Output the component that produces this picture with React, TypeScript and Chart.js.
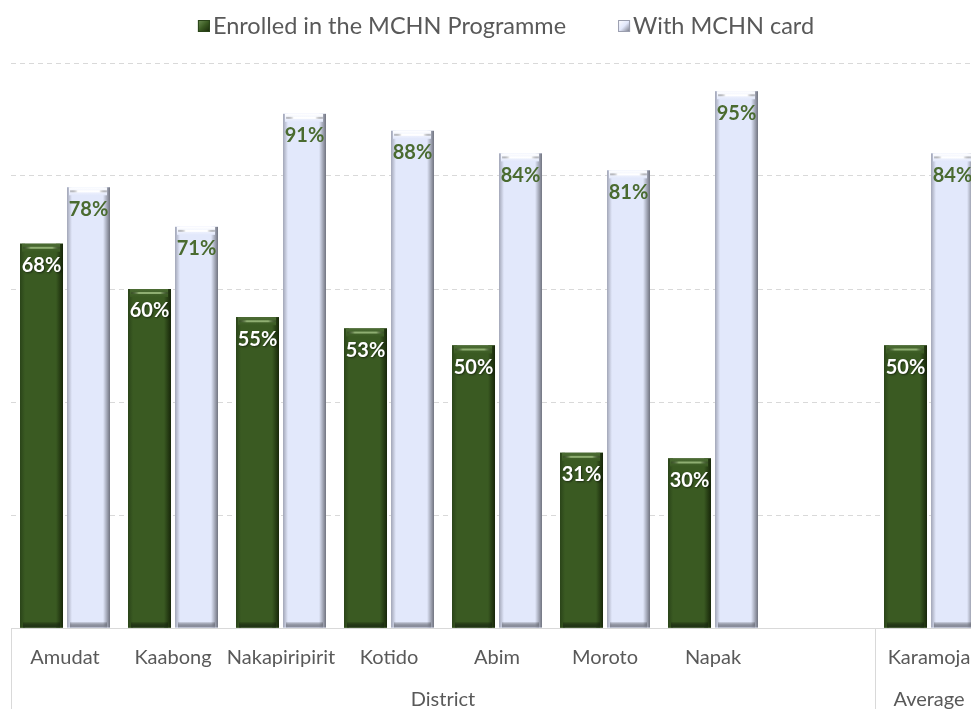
import React, { useEffect, useRef } from 'react';
import { Chart, registerables } from 'chart.js';

Chart.register(...registerables);

const categories = ['Amudat', 'Kaabong', 'Nakapiripirit', 'Kotido', 'Abim', 'Moroto', 'Napak', '', 'Karamoja'];
const enrolled = [68, 60, 55, 53, 50, 31, 30, null, 50];
const withCard = [78, 71, 91, 88, 84, 81, 95, null, 84];
const seriesNames = ['Enrolled in the MCHN Programme', 'With MCHN card'];
const groupNames = ['District', 'Average'];
const groupStarts = [0, 8];
const groupEnds = [7, 8];
const yMin = 0;
const yMax = 100;
const yStep = 20;

const FONT = 'Lato, "Open Sans", sans-serif';
const TEXT_GRAY = '#595959';
const LINE_GRAY = '#d9d9d9';

const schemes = [
  { base: '#3a5a22', left: '#2a4419', right: '#172609', bottom: '#223618', top: '#4c6c34', hi: '#8fae72', label: '#ffffff' },
  { base: '#e2e8fb', left: '#a2a6b7', right: '#70737f', bottom: '#8f93a2', top: '#ffffff', hi: '#ffffff', label: '#4a6b30' },
];

function drawBevelBar(ctx: CanvasRenderingContext2D, x0: number, x1: number, top: number, bot: number, s: any) {
  const w = x1 - x0;
  ctx.save();
  ctx.fillStyle = s.base;
  ctx.fillRect(x0, top, w, bot - top);
  let g = ctx.createLinearGradient(x0, 0, x0 + 5, 0);
  g.addColorStop(0, s.left);
  g.addColorStop(1, s.base);
  ctx.fillStyle = g;
  ctx.fillRect(x0, top, 5, bot - top);
  g = ctx.createLinearGradient(x1 - 7, 0, x1, 0);
  g.addColorStop(0, s.base);
  g.addColorStop(1, s.right);
  ctx.fillStyle = g;
  ctx.fillRect(x1 - 7, top, 7, bot - top);
  g = ctx.createLinearGradient(0, bot - 6, 0, bot);
  g.addColorStop(0, 'rgba(0,0,0,0)');
  g.addColorStop(1, s.bottom);
  ctx.fillStyle = g;
  ctx.fillRect(x0 + 3, bot - 6, w - 6, 6);
  g = ctx.createLinearGradient(0, top, 0, top + 8);
  g.addColorStop(0, s.top);
  g.addColorStop(1, s.base);
  ctx.fillStyle = g;
  ctx.fillRect(x0 + 2, top, w - 5, 8);
  g = ctx.createLinearGradient(x0, 0, x1, 0);
  g.addColorStop(0, 'rgba(0,0,0,0)');
  g.addColorStop(0.25, s.hi);
  g.addColorStop(0.75, s.hi);
  g.addColorStop(1, 'rgba(0,0,0,0)');
  ctx.fillStyle = g;
  ctx.fillRect(x0 + 3, top + 3, w - 6, 2);
  ctx.restore();
}

const decorPlugin = {
  id: 'decor',
  afterDatasetsDraw(chart: any) {
    const ctx: CanvasRenderingContext2D = chart.ctx;
    chart.data.datasets.forEach((ds: any, di: number) => {
      const meta = chart.getDatasetMeta(di);
      const s = schemes[di];
      meta.data.forEach((el: any, i: number) => {
        const v = ds.data[i];
        if (v == null) return;
        const p = el.getProps(['x', 'y', 'base', 'width'], true);
        drawBevelBar(ctx, p.x - p.width / 2, p.x + p.width / 2, p.y, p.base, s);
      });
    });
    chart.data.datasets.forEach((ds: any, di: number) => {
      const meta = chart.getDatasetMeta(di);
      const s = schemes[di];
      meta.data.forEach((el: any, i: number) => {
        const v = ds.data[i];
        if (v == null) return;
        const p = el.getProps(['x', 'y'], true);
        ctx.save();
        ctx.font = `bold 20px ${FONT}`;
        ctx.textAlign = 'center';
        ctx.textBaseline = 'middle';
        if (di === 0) {
          ctx.shadowColor = 'rgba(0,0,0,0.5)';
          ctx.shadowBlur = 2;
          ctx.shadowOffsetX = 1;
          ctx.shadowOffsetY = 1;
        }
        ctx.fillStyle = s.label;
        ctx.fillText(`${v}%`, p.x, p.y + 22);
        ctx.restore();
      });
    });
  },
  afterDraw(chart: any) {
    const ctx: CanvasRenderingContext2D = chart.ctx;
    const xs = chart.scales.x;
    const area = chart.chartArea;
    const half = (xs.getPixelForValue(1) - xs.getPixelForValue(0)) / 2;
    ctx.save();
    ctx.strokeStyle = LINE_GRAY;
    ctx.lineWidth = 1;
    groupNames.forEach((name, gi) => {
      const l = xs.getPixelForValue(groupStarts[gi]) - half;
      const r = xs.getPixelForValue(groupEnds[gi]) + half;
      [l, r].forEach((px) => {
        ctx.beginPath();
        ctx.moveTo(Math.round(px) + 0.5, area.bottom);
        ctx.lineTo(Math.round(px) + 0.5, chart.height);
        ctx.stroke();
      });
      ctx.fillStyle = TEXT_GRAY;
      ctx.font = `20px ${FONT}`;
      ctx.textAlign = 'center';
      ctx.textBaseline = 'middle';
      ctx.fillText(name, (l + r) / 2, area.bottom + 72);
    });
    // legend
    ctx.font = `23.5px ${FONT}`;
    ctx.textBaseline = 'middle';
    ctx.textAlign = 'left';
    const box = 12;
    const gap = 3;
    const spacing = 52;
    const widths = seriesNames.map((n) => ctx.measureText(n).width);
    const total = widths.reduce((a, w) => a + box + gap + w, 0) + spacing;
    let x = (area.left + area.right) / 2 + 9 - total / 2;
    const cy = 26;
    seriesNames.forEach((n, i) => {
      const s = schemes[i];
      const g = ctx.createLinearGradient(x, cy - box / 2, x + box, cy + box / 2);
      g.addColorStop(0, i === 0 ? '#6f8f55' : '#ffffff');
      g.addColorStop(0.5, s.base);
      g.addColorStop(1, s.right);
      ctx.fillStyle = g;
      ctx.fillRect(x, cy - box / 2, box, box);
      ctx.strokeStyle = i === 0 ? '#2a4419' : '#9a9eae';
      ctx.strokeRect(x + 0.5, cy - box / 2 + 0.5, box - 1, box - 1);
      ctx.fillStyle = TEXT_GRAY;
      ctx.fillText(n, x + box + gap, cy);
      x += box + gap + widths[i] + spacing;
    });
    ctx.restore();
  },
};

export default function App() {
  const ref = useRef<HTMLCanvasElement | null>(null);
  useEffect(() => {
    if (!ref.current) return;
    const chart = new Chart(ref.current, {
      type: 'bar',
      data: {
        labels: categories,
        datasets: [
          { label: seriesNames[0], data: enrolled, backgroundColor: schemes[0].base, borderWidth: 0 },
          { label: seriesNames[1], data: withCard, backgroundColor: schemes[1].base, borderWidth: 0 },
        ],
      },
      options: {
        responsive: false,
        animation: false,
        devicePixelRatio: 1,
        layout: { padding: { top: 63, left: 11, right: 7, bottom: 0 } },
        datasets: { bar: { categoryPercentage: 0.87, barPercentage: 0.915 } },
        plugins: {
          legend: { display: false },
          tooltip: { enabled: false },
        },
        scales: {
          x: {
            grid: { display: false },
            border: { display: true, color: LINE_GRAY, width: 1 },
            ticks: { color: TEXT_GRAY, font: { family: FONT, size: 20 }, padding: 10, maxRotation: 0, autoSkip: false },
            afterFit: (scale: any) => { scale.height = 81; },
          },
          y: {
            min: yMin,
            max: yMax,
            ticks: { display: false, stepSize: yStep },
            grid: { color: LINE_GRAY, drawTicks: false, lineWidth: 1 },
            border: { display: false, dash: [5, 4] },
            afterFit: (scale: any) => { scale.width = 0; },
          },
        },
      },
      plugins: [decorPlugin],
    });
    return () => chart.destroy();
  }, []);
  return (
    <div style={{ position: 'fixed', left: 0, top: 0, width: 971, height: 709, overflow: 'hidden', background: '#ffffff' }}>
      <canvas ref={ref} width={990} height={709} style={{ display: 'block' }} />
    </div>
  );
}
